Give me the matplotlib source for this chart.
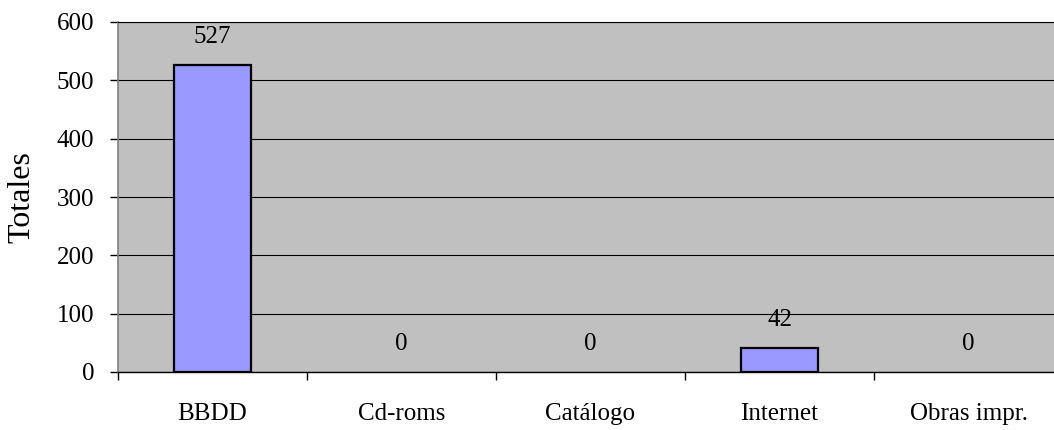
import matplotlib
matplotlib.use("Agg")
import matplotlib.pyplot as plt
import numpy as np

categories = ["BBDD", "Cd-roms", "Catálogo", "Internet", "Obras impr."]
values = [527, 0, 0, 42, 0]
yticks = [0, 100, 200, 300, 400, 500, 600]

plt.rcParams['font.family'] = ['Liberation Serif', 'DejaVu Serif']

W, H = 1054, 430
fig = plt.figure(figsize=(W / 100, H / 100), dpi=100)
ax = fig.add_axes([118 / W, 58 / H, 945 / W, 350 / H])
ax.set_facecolor('#C0C0C0')

x = np.arange(len(categories))
edges = ['black' if v > 0 else 'none' for v in values]
bars = ax.bar(x, values, width=0.41, color='#9999FF', edgecolor=edges, linewidth=1.6, zorder=3)
for xi, v in zip(x, values):
    ax.annotate(str(v), (xi, v), xytext=(0, 20), textcoords='offset points',
                ha='center', va='center', fontsize=18, zorder=4)

ax.set_xlim(-0.5, len(categories) - 0.5)
ax.set_ylim(0, 600)
ax.set_yticks(yticks)
ax.set_yticklabels([str(t) for t in yticks], fontsize=18)
ax.yaxis.grid(True, color='black', linewidth=0.8, zorder=1)
ax.set_axisbelow(True)

ax.set_xticks(x)
ax.set_xticklabels(categories, fontsize=18)
ax.set_xticks(np.arange(len(categories) + 1) - 0.5, minor=True)
ax.tick_params(axis='x', which='major', length=0, pad=22)
ax.tick_params(axis='x', which='minor', length=6, width=1, direction='out', color='black')
ax.tick_params(axis='y', length=6, width=1, direction='out', pad=11, color='black')

ax.spines['left'].set_color('#808080')
ax.spines['left'].set_linewidth(1.2)
ax.spines['bottom'].set_color('black')
ax.spines['bottom'].set_linewidth(1)
ax.spines['top'].set_color('black')
ax.spines['top'].set_linewidth(0.8)
ax.spines['right'].set_visible(False)

ax.set_ylabel('Totales', fontsize=23)
ax.yaxis.set_label_coords(-(118 - 36) / 945, 0.5)

fig.savefig('out.png', dpi=100)
